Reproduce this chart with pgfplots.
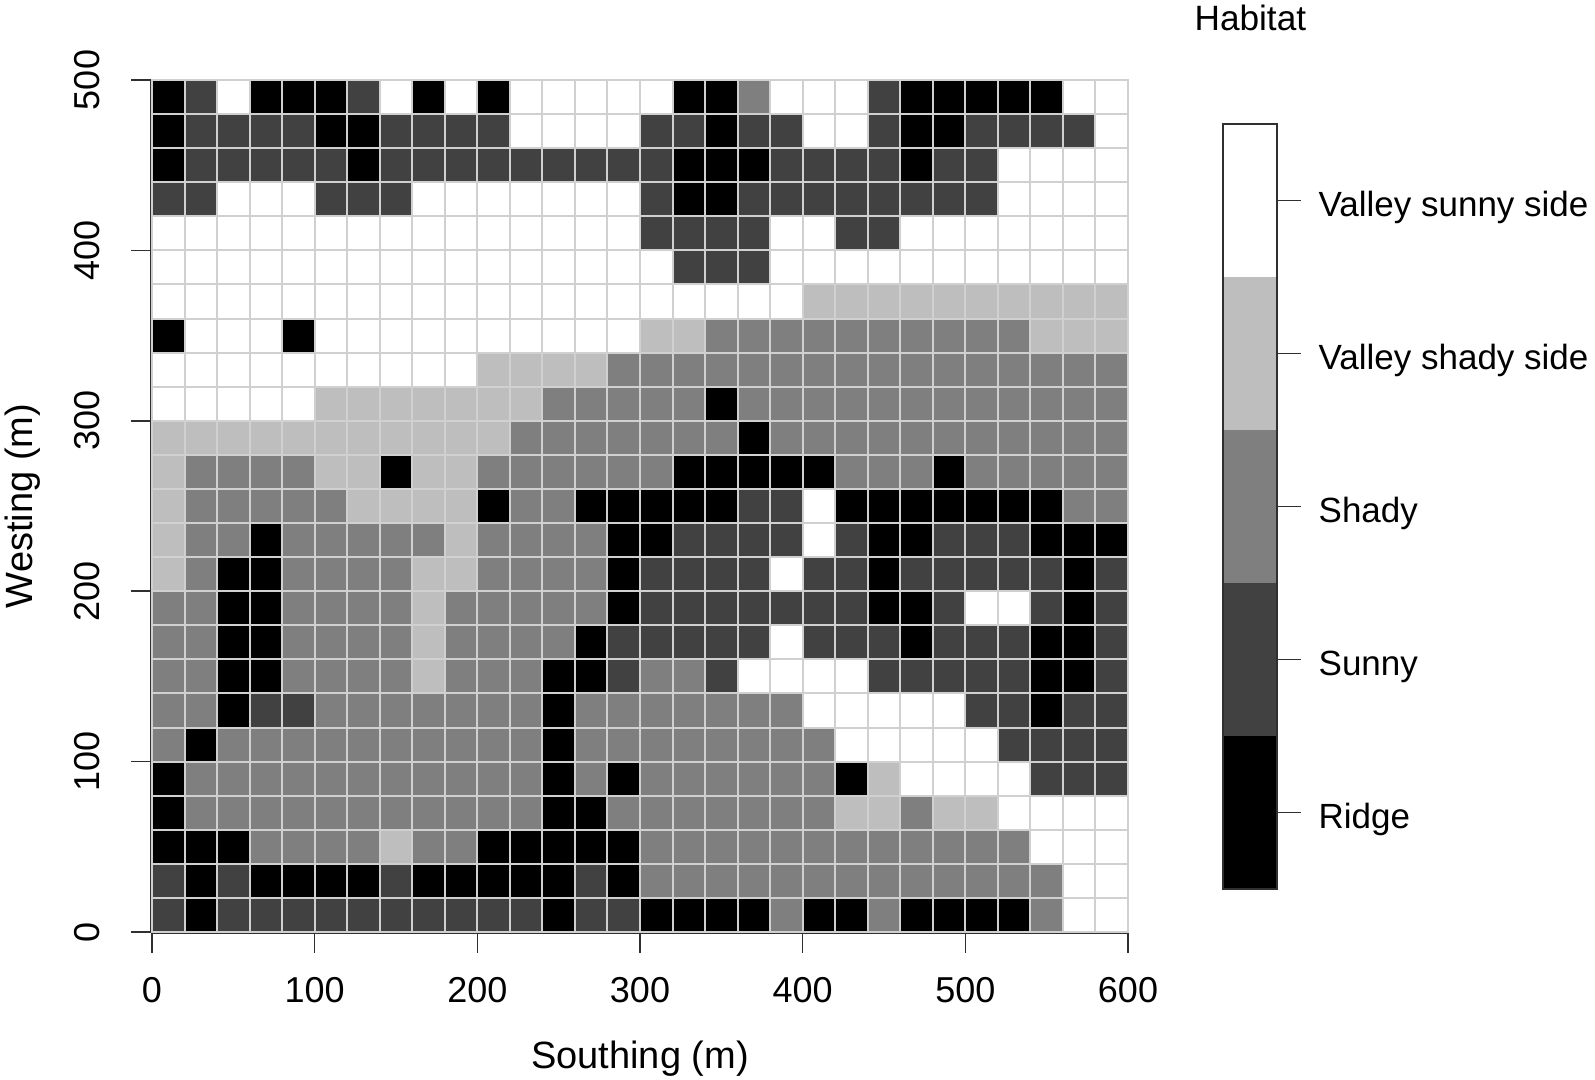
\documentclass[border=0pt]{standalone}
\usepackage{fontspec}
\setmainfont{Liberation Sans}
\usepackage{pgfplots}
\usepackage{pgfplotstable}
\pgfplotsset{compat=1.18}
\definecolor{c0}{HTML}{000000}
\definecolor{c1}{HTML}{414141}
\definecolor{c2}{HTML}{7F7F7F}
\definecolor{c3}{HTML}{BEBEBE}
\definecolor{c4}{HTML}{FFFFFF}
\definecolor{gridc}{HTML}{D0D0D0}
\definecolor{axc}{HTML}{303030}
% habitat code per cell: 0 Ridge, 1 Sunny, 2 Shady, 3 Valley shady side, 4 Valley sunny side
\begin{document}
\begin{tikzpicture}[x=1pt,y=1pt]
\path[use as bounding box] (0,0) rectangle (797.5,540);
\begin{axis}[
  at={(76pt,74pt)},anchor=south west,
  scale only axis,width=488pt,height=426pt,
  xmin=0,xmax=600,ymin=0,ymax=500,
  axis lines=left,axis line style={-,color=axc,line width=0.8pt},
  y axis line style={xshift=-0.6pt},
  x axis line style={yshift=-0.5pt},
  tick style={color=axc,line width=0.8pt},tick align=outside,major tick length=10.5pt,
  xtick={0,100,...,600},ytick={0,100,...,500},
  /pgf/number format/assume math mode=true,
  tick label style={font=\fontsize{18}{20}\selectfont},
  yticklabel style={rotate=90,anchor=south,yshift=12pt},
  xticklabel style={yshift=-8.5pt},
  xlabel={Southing (m)},ylabel={Westing (m)},
  label style={font=\fontsize{19}{21}\selectfont},
  xlabel style={at={(axis description cs:0.5,-0.16)},anchor=base},
  ylabel style={at={(axis description cs:-0.122,0.5)},anchor=base},
  colormap={hab}{color=(c0) color=(c1) color=(c2) color=(c3) color=(c4)},
  colormap access=direct,
  point meta min=0,point meta max=4,
  clip=false,
]
\addplot[matrix plot*,mesh/cols=30,point meta=explicit,draw=gridc,line width=1pt,colormap access=direct] table[meta=c] {
x y c
10 10 1
30 10 0
50 10 1
70 10 1
90 10 1
110 10 1
130 10 1
150 10 1
170 10 1
190 10 1
210 10 1
230 10 1
250 10 0
270 10 1
290 10 1
310 10 0
330 10 0
350 10 0
370 10 0
390 10 2
410 10 0
430 10 0
450 10 2
470 10 0
490 10 0
510 10 0
530 10 0
550 10 2
570 10 4
590 10 4
10 30 1
30 30 0
50 30 1
70 30 0
90 30 0
110 30 0
130 30 0
150 30 1
170 30 0
190 30 0
210 30 0
230 30 0
250 30 0
270 30 1
290 30 0
310 30 2
330 30 2
350 30 2
370 30 2
390 30 2
410 30 2
430 30 2
450 30 2
470 30 2
490 30 2
510 30 2
530 30 2
550 30 2
570 30 4
590 30 4
10 50 0
30 50 0
50 50 0
70 50 2
90 50 2
110 50 2
130 50 2
150 50 3
170 50 2
190 50 2
210 50 0
230 50 0
250 50 0
270 50 0
290 50 0
310 50 2
330 50 2
350 50 2
370 50 2
390 50 2
410 50 2
430 50 2
450 50 2
470 50 2
490 50 2
510 50 2
530 50 2
550 50 4
570 50 4
590 50 4
10 70 0
30 70 2
50 70 2
70 70 2
90 70 2
110 70 2
130 70 2
150 70 2
170 70 2
190 70 2
210 70 2
230 70 2
250 70 0
270 70 0
290 70 2
310 70 2
330 70 2
350 70 2
370 70 2
390 70 2
410 70 2
430 70 3
450 70 3
470 70 2
490 70 3
510 70 3
530 70 4
550 70 4
570 70 4
590 70 4
10 90 0
30 90 2
50 90 2
70 90 2
90 90 2
110 90 2
130 90 2
150 90 2
170 90 2
190 90 2
210 90 2
230 90 2
250 90 0
270 90 2
290 90 0
310 90 2
330 90 2
350 90 2
370 90 2
390 90 2
410 90 2
430 90 0
450 90 3
470 90 4
490 90 4
510 90 4
530 90 4
550 90 1
570 90 1
590 90 1
10 110 2
30 110 0
50 110 2
70 110 2
90 110 2
110 110 2
130 110 2
150 110 2
170 110 2
190 110 2
210 110 2
230 110 2
250 110 0
270 110 2
290 110 2
310 110 2
330 110 2
350 110 2
370 110 2
390 110 2
410 110 2
430 110 4
450 110 4
470 110 4
490 110 4
510 110 4
530 110 1
550 110 1
570 110 1
590 110 1
10 130 2
30 130 2
50 130 0
70 130 1
90 130 1
110 130 2
130 130 2
150 130 2
170 130 2
190 130 2
210 130 2
230 130 2
250 130 0
270 130 2
290 130 2
310 130 2
330 130 2
350 130 2
370 130 2
390 130 2
410 130 4
430 130 4
450 130 4
470 130 4
490 130 4
510 130 1
530 130 1
550 130 0
570 130 1
590 130 1
10 150 2
30 150 2
50 150 0
70 150 0
90 150 2
110 150 2
130 150 2
150 150 2
170 150 3
190 150 2
210 150 2
230 150 2
250 150 0
270 150 0
290 150 1
310 150 2
330 150 2
350 150 1
370 150 4
390 150 4
410 150 4
430 150 4
450 150 1
470 150 1
490 150 1
510 150 1
530 150 1
550 150 0
570 150 0
590 150 1
10 170 2
30 170 2
50 170 0
70 170 0
90 170 2
110 170 2
130 170 2
150 170 2
170 170 3
190 170 2
210 170 2
230 170 2
250 170 2
270 170 0
290 170 1
310 170 1
330 170 1
350 170 1
370 170 1
390 170 4
410 170 1
430 170 1
450 170 1
470 170 0
490 170 1
510 170 1
530 170 1
550 170 0
570 170 0
590 170 1
10 190 2
30 190 2
50 190 0
70 190 0
90 190 2
110 190 2
130 190 2
150 190 2
170 190 3
190 190 2
210 190 2
230 190 2
250 190 2
270 190 2
290 190 0
310 190 1
330 190 1
350 190 1
370 190 1
390 190 1
410 190 1
430 190 1
450 190 0
470 190 0
490 190 1
510 190 4
530 190 4
550 190 1
570 190 0
590 190 1
10 210 3
30 210 2
50 210 0
70 210 0
90 210 2
110 210 2
130 210 2
150 210 2
170 210 3
190 210 3
210 210 2
230 210 2
250 210 2
270 210 2
290 210 0
310 210 1
330 210 1
350 210 1
370 210 1
390 210 4
410 210 1
430 210 1
450 210 0
470 210 1
490 210 1
510 210 1
530 210 1
550 210 1
570 210 0
590 210 1
10 230 3
30 230 2
50 230 2
70 230 0
90 230 2
110 230 2
130 230 2
150 230 2
170 230 2
190 230 3
210 230 2
230 230 2
250 230 2
270 230 2
290 230 0
310 230 0
330 230 1
350 230 1
370 230 1
390 230 1
410 230 4
430 230 1
450 230 0
470 230 0
490 230 1
510 230 1
530 230 1
550 230 0
570 230 0
590 230 0
10 250 3
30 250 2
50 250 2
70 250 2
90 250 2
110 250 2
130 250 3
150 250 3
170 250 3
190 250 3
210 250 0
230 250 2
250 250 2
270 250 0
290 250 0
310 250 0
330 250 0
350 250 0
370 250 1
390 250 1
410 250 4
430 250 0
450 250 0
470 250 0
490 250 0
510 250 0
530 250 0
550 250 0
570 250 2
590 250 2
10 270 3
30 270 2
50 270 2
70 270 2
90 270 2
110 270 3
130 270 3
150 270 0
170 270 3
190 270 3
210 270 2
230 270 2
250 270 2
270 270 2
290 270 2
310 270 2
330 270 0
350 270 0
370 270 0
390 270 0
410 270 0
430 270 2
450 270 2
470 270 2
490 270 0
510 270 2
530 270 2
550 270 2
570 270 2
590 270 2
10 290 3
30 290 3
50 290 3
70 290 3
90 290 3
110 290 3
130 290 3
150 290 3
170 290 3
190 290 3
210 290 3
230 290 2
250 290 2
270 290 2
290 290 2
310 290 2
330 290 2
350 290 2
370 290 0
390 290 2
410 290 2
430 290 2
450 290 2
470 290 2
490 290 2
510 290 2
530 290 2
550 290 2
570 290 2
590 290 2
10 310 4
30 310 4
50 310 4
70 310 4
90 310 4
110 310 3
130 310 3
150 310 3
170 310 3
190 310 3
210 310 3
230 310 3
250 310 2
270 310 2
290 310 2
310 310 2
330 310 2
350 310 0
370 310 2
390 310 2
410 310 2
430 310 2
450 310 2
470 310 2
490 310 2
510 310 2
530 310 2
550 310 2
570 310 2
590 310 2
10 330 4
30 330 4
50 330 4
70 330 4
90 330 4
110 330 4
130 330 4
150 330 4
170 330 4
190 330 4
210 330 3
230 330 3
250 330 3
270 330 3
290 330 2
310 330 2
330 330 2
350 330 2
370 330 2
390 330 2
410 330 2
430 330 2
450 330 2
470 330 2
490 330 2
510 330 2
530 330 2
550 330 2
570 330 2
590 330 2
10 350 0
30 350 4
50 350 4
70 350 4
90 350 0
110 350 4
130 350 4
150 350 4
170 350 4
190 350 4
210 350 4
230 350 4
250 350 4
270 350 4
290 350 4
310 350 3
330 350 3
350 350 2
370 350 2
390 350 2
410 350 2
430 350 2
450 350 2
470 350 2
490 350 2
510 350 2
530 350 2
550 350 3
570 350 3
590 350 3
10 370 4
30 370 4
50 370 4
70 370 4
90 370 4
110 370 4
130 370 4
150 370 4
170 370 4
190 370 4
210 370 4
230 370 4
250 370 4
270 370 4
290 370 4
310 370 4
330 370 4
350 370 4
370 370 4
390 370 4
410 370 3
430 370 3
450 370 3
470 370 3
490 370 3
510 370 3
530 370 3
550 370 3
570 370 3
590 370 3
10 390 4
30 390 4
50 390 4
70 390 4
90 390 4
110 390 4
130 390 4
150 390 4
170 390 4
190 390 4
210 390 4
230 390 4
250 390 4
270 390 4
290 390 4
310 390 4
330 390 1
350 390 1
370 390 1
390 390 4
410 390 4
430 390 4
450 390 4
470 390 4
490 390 4
510 390 4
530 390 4
550 390 4
570 390 4
590 390 4
10 410 4
30 410 4
50 410 4
70 410 4
90 410 4
110 410 4
130 410 4
150 410 4
170 410 4
190 410 4
210 410 4
230 410 4
250 410 4
270 410 4
290 410 4
310 410 1
330 410 1
350 410 1
370 410 1
390 410 4
410 410 4
430 410 1
450 410 1
470 410 4
490 410 4
510 410 4
530 410 4
550 410 4
570 410 4
590 410 4
10 430 1
30 430 1
50 430 4
70 430 4
90 430 4
110 430 1
130 430 1
150 430 1
170 430 4
190 430 4
210 430 4
230 430 4
250 430 4
270 430 4
290 430 4
310 430 1
330 430 0
350 430 0
370 430 1
390 430 1
410 430 1
430 430 1
450 430 1
470 430 1
490 430 1
510 430 1
530 430 4
550 430 4
570 430 4
590 430 4
10 450 0
30 450 1
50 450 1
70 450 1
90 450 1
110 450 1
130 450 0
150 450 1
170 450 1
190 450 1
210 450 1
230 450 1
250 450 1
270 450 1
290 450 1
310 450 1
330 450 0
350 450 0
370 450 0
390 450 1
410 450 1
430 450 1
450 450 1
470 450 0
490 450 1
510 450 1
530 450 4
550 450 4
570 450 4
590 450 4
10 470 0
30 470 1
50 470 1
70 470 1
90 470 1
110 470 0
130 470 0
150 470 1
170 470 1
190 470 1
210 470 1
230 470 4
250 470 4
270 470 4
290 470 4
310 470 1
330 470 1
350 470 0
370 470 1
390 470 1
410 470 4
430 470 4
450 470 1
470 470 0
490 470 0
510 470 1
530 470 1
550 470 1
570 470 1
590 470 4
10 490 0
30 490 1
50 490 4
70 490 0
90 490 0
110 490 0
130 490 1
150 490 4
170 490 0
190 490 4
210 490 0
230 490 4
250 490 4
270 490 4
290 490 4
310 490 4
330 490 0
350 490 0
370 490 2
390 490 4
410 490 4
430 490 4
450 490 1
470 490 0
490 490 0
510 490 0
530 490 0
550 490 0
570 490 4
590 490 4
};
\end{axis}
\begin{axis}[
  at={(611.4pt,95.5pt)},anchor=south west,
  scale only axis,width=27pt,height=382.5pt,
  xmin=0,xmax=1,ymin=-0.5,ymax=4.5,
  xtick=\empty,
  ytick={0,1,2,3,4},
  yticklabels={Ridge,Sunny,Shady,Valley shady side,Valley sunny side},
  ytick pos=right,yticklabel pos=right,
  tick align=outside,major tick length=12pt,
  tick style={color=axc,line width=0.8pt},
  axis line style={color=axc,line width=0.8pt},
  yticklabel style={font=\fontsize{17.5}{20}\selectfont,anchor=west,xshift=5.4pt,yshift=-3.5pt},
  axis on top,
  clip=false,
  title={Habitat},
  title style={font=\fontsize{17.6}{20}\selectfont,at={(axis description cs:-0.53,1.106)},anchor=base west,inner sep=0pt},
]
\addplot[fill=c0,draw=none] coordinates {(0,-0.5)(1,-0.5)(1,0.5)(0,0.5)} --cycle;
\addplot[fill=c1,draw=none] coordinates {(0,0.5)(1,0.5)(1,1.5)(0,1.5)} --cycle;
\addplot[fill=c2,draw=none] coordinates {(0,1.5)(1,1.5)(1,2.5)(0,2.5)} --cycle;
\addplot[fill=c3,draw=none] coordinates {(0,2.5)(1,2.5)(1,3.5)(0,3.5)} --cycle;
\addplot[fill=c4,draw=none] coordinates {(0,3.5)(1,3.5)(1,4.5)(0,4.5)} --cycle;
\end{axis}
\end{tikzpicture}
\end{document}
